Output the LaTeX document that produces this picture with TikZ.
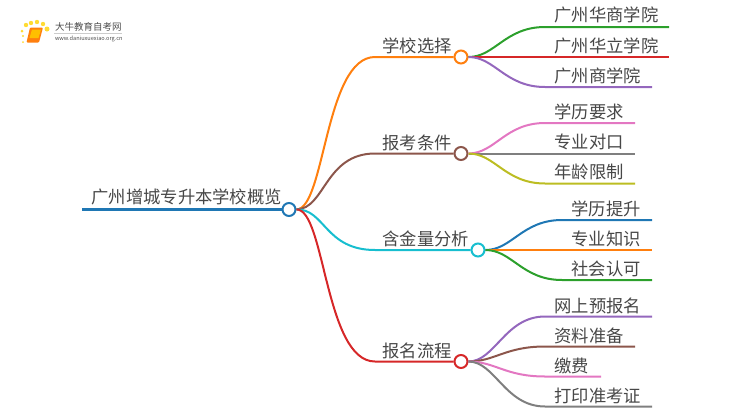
\documentclass[tikz,border=0pt]{standalone}
\usepackage{fontspec}
\setmainfont{Noto Sans CJK SC}
\definecolor{tblue}{HTML}{1F77B4}
\definecolor{torange}{HTML}{FF7F0E}
\definecolor{tgreen}{HTML}{2CA02C}
\definecolor{tred}{HTML}{D62728}
\definecolor{tpurple}{HTML}{9467BD}
\definecolor{tbrown}{HTML}{8C564B}
\definecolor{tpink}{HTML}{E377C2}
\definecolor{tgray}{HTML}{7F7F7F}
\definecolor{tolive}{HTML}{BCBD22}
\definecolor{tcyan}{HTML}{17BECF}
\begin{document}
\begin{tikzpicture}[x=1pt, y=-1pt, line width=2pt,
    hub/.style = {circle, draw, fill=white, inner sep=0pt, minimum size=13pt},
    main/.style = {anchor=west, inner sep=0pt, text=black!72, font=\fontsize{17.3}{17.3}\selectfont},
    small/.style = {anchor=west, inner sep=0pt, text=black!70},
    dot/.style = {circle, fill=orange!35!yellow!80!white, draw=none, inner sep=0pt}]
    \useasboundingbox (0,0) rectangle (750,410);

    % logo
    \foreach \px/\py/\pr in {26/25/2.2, 31/23/2.2, 37/22/2.2, 43/24/2.2, 47/29/2.5, 22/31/1.5, 23/36/1.2, 23/42/1}
        \node[dot, minimum size=2*\pr pt] at (\px,\py) {};
    \fill[torange, rounded corners=1pt] (30,27.5) -- (43,27.5) -- (39,42.5) -- (26.5,42.5) -- cycle;
    \fill[orange!50!yellow] (32,29.5) -- (41,29.5) -- (38.5,38) -- (29.5,38) -- cycle;
    \node[small, font=\fontsize{9.5}{10}\selectfont] (brand) at (54,27) {大牛教育自考网};
    \node[small, font=\fontsize{5.6}{6}\selectfont] (site) at (54,38.5) {www.daniuxuexiao.org.cn};
    \draw[black!20, line width=0.6pt] (54,33) -- (122,33);

    % root and hubs
    \node[hub, draw=tblue] (root) at (289,209.5) {};
    \node[hub, draw=torange] (school) at (461,57) {};
    \node[hub, draw=tbrown] (cond) at (461,153.5) {};
    \node[hub, draw=tcyan] (value) at (478,250) {};
    \node[hub, draw=tred] (apply) at (461,361.5) {};
    \coordinate (rootend) at (82,209.5);
    \coordinate (schoolin) at (375,57);
    \coordinate (condin) at (375,153.5);
    \coordinate (valuein) at (375,250);
    \coordinate (applyin) at (375,361.5);

    \node[main] (roottext) at (90.5,197) {广州增城专升本学校概览};
    \node[main] (schooltext) at (381.5,45.5) {学校选择};
    \node[main] (condtext) at (381.5,142.5) {报考条件};
    \node[main] (valuetext) at (381.5,239) {含金量分析};
    \node[main] (applytext) at (381.5,350.5) {报名流程};

    \node[main] (s1) at (553.5,15) {广州华商学院};
    \node[main] (s2) at (553.5,46) {广州华立学院};
    \node[main] (s3) at (553.5,76) {广州商学院};
    \node[main] (c1) at (553.5,112) {学历要求};
    \node[main] (c2) at (553.5,142) {专业对口};
    \node[main] (c3) at (553.5,172) {年龄限制};
    \node[main] (v1) at (570.5,209) {学历提升};
    \node[main] (v2) at (570.5,239) {专业知识};
    \node[main] (v3) at (570.5,269) {社会认可};
    \node[main] (a1) at (553.5,306) {网上预报名};
    \node[main] (a2) at (553.5,336) {资料准备};
    \node[main] (a3) at (553.5,366) {缴费};
    \node[main] (a4) at (553.5,396) {打印准考证};

    % leaf line ends
    \coordinate (s1e) at (669,27);
    \coordinate (s2e) at (669,57);
    \coordinate (s3e) at (652,87);
    \coordinate (c1e) at (635,123);
    \coordinate (c2e) at (635,153.5);
    \coordinate (c3e) at (635,183.5);
    \coordinate (v1e) at (652,220);
    \coordinate (v2e) at (652,250);
    \coordinate (v3e) at (652,280);
    \coordinate (a1e) at (652,316.5);
    \coordinate (a2e) at (635,346.5);
    \coordinate (a3e) at (601,376.5);
    \coordinate (a4e) at (652,406.5);

    \draw[tblue, line width=2.5pt] (rootend) -- (root);
    \draw[torange] (root) .. controls (325,209) and (325,57) .. (schoolin) -- (school);
    \draw[tbrown] (root) .. controls (325,209) and (325,153.5) .. (condin) -- (cond);
    \draw[tcyan] (root) .. controls (325,209) and (325,250) .. (valuein) -- (value);
    \draw[tred] (root) .. controls (325,209) and (325,361.5) .. (applyin) -- (apply);

    \draw[tgreen] (school) .. controls (495,57) and (505,27) .. (545,27) -- (s1e);
    \draw[tred] (school) -- (s2e);
    \draw[tpurple] (school) .. controls (495,57) and (505,87) .. (545,87) -- (s3e);

    \draw[tpink] (cond) .. controls (495,153.5) and (505,123) .. (545,123) -- (c1e);
    \draw[tgray] (cond) -- (c2e);
    \draw[tolive] (cond) .. controls (495,153.5) and (505,183.5) .. (545,183.5) -- (c3e);

    \draw[tblue] (value) .. controls (512,250) and (522,220) .. (562,220) -- (v1e);
    \draw[torange] (value) -- (v2e);
    \draw[tgreen] (value) .. controls (512,250) and (522,280) .. (562,280) -- (v3e);

    \draw[tpurple] (apply) .. controls (495,361.5) and (505,316.5) .. (545,316.5) -- (a1e);
    \draw[tbrown] (apply) .. controls (495,361.5) and (505,346.5) .. (545,346.5) -- (a2e);
    \draw[tpink] (apply) .. controls (495,361.5) and (505,376.5) .. (545,376.5) -- (a3e);
    \draw[tgray] (apply) .. controls (495,361.5) and (505,406.5) .. (545,406.5) -- (a4e);
\end{tikzpicture}
\end{document}
